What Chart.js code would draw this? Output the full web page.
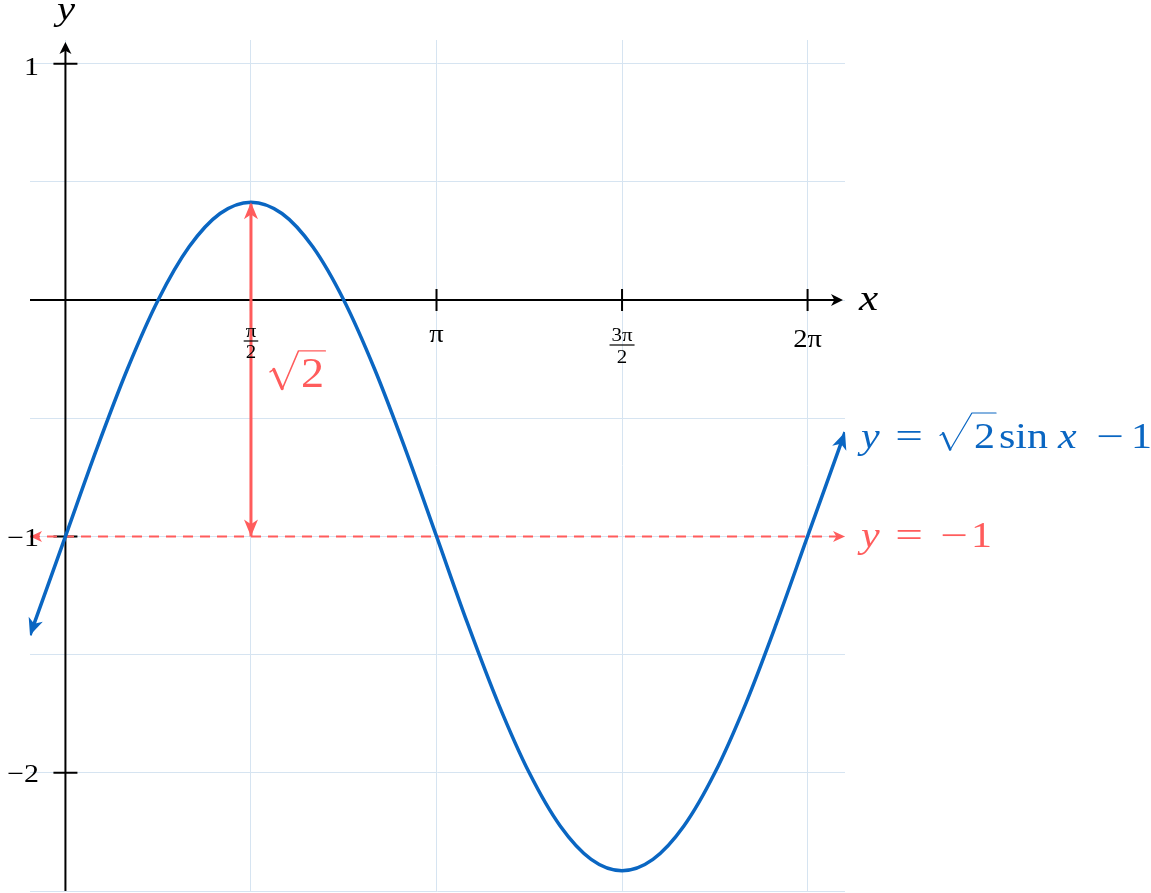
<!DOCTYPE html>
<html>
<head>
<meta charset="utf-8">
<script src="https://cdn.jsdelivr.net/npm/chart.js@4.4.0/dist/chart.umd.min.js"></script>
<style>
  html, body { margin: 0; padding: 0; background: #fff; }
  canvas { display: block; }
</style>
</head>
<body>
<canvas id="chart" width="1151" height="893" style="width:1151px;height:893px"></canvas>
<script>
// y = sqrt(2) sin x - 1
const curveX = [-0.3, 0, 0.262, 0.524, 0.785, 1.047, 1.309, 1.571, 1.833, 2.094, 2.356, 2.618, 2.880, 3.142,
  3.403, 3.665, 3.927, 4.189, 4.451, 4.712, 4.974, 5.236, 5.498, 5.760, 6.021, 6.283, 6.6];
const curveY = [-1.418, -1, -0.634, -0.293, 0, 0.225, 0.366, 0.414, 0.366, 0.225, 0, -0.293, -0.634, -1,
  -1.366, -1.707, -2, -2.225, -2.366, -2.414, -2.366, -2.225, -2, -1.707, -1.366, -1, -0.559];

// dashed reference line y = -1 and the amplitude arrow at x = pi/2
const refLineX = [-0.3, 6.6];
const refLineY = [-1, -1];
const ampX = [1.5708, 1.5708];
const ampY = [-1, 0.414];

const xMin = -0.3, xMax = 6.6, yMin = -2.5, yMax = 1.1;
const xGrid = [0, 1.5708, 3.1416, 4.7124, 6.2832];
const yGrid = [1, 0.5, 0, -0.5, -1, -1.5, -2, -2.5];
const xTickValues = [1.5708, 3.1416, 4.7124, 6.2832];
const yTickValues = [1, -1, -2];
const yTickLabels = ["1", "−1", "−2"];

const blue = "#0a66c2";
const red = "#ff5c5c";
const gridColor = "#d6e4f1";
const serif = '"Liberation Serif", "Times New Roman", serif';

function toPoints(xs, ys) {
  return xs.map((x, i) => ({ x: x, y: ys[i] }));
}

function arrowHead(ctx, tipX, tipY, fromX, fromY, len, half, color) {
  const a = Math.atan2(tipY - fromY, tipX - fromX);
  ctx.save();
  ctx.translate(tipX, tipY);
  ctx.rotate(a);
  ctx.beginPath();
  ctx.moveTo(0, 0);
  ctx.lineTo(-len, -half);
  ctx.lineTo(-len * 0.72, 0);
  ctx.lineTo(-len, half);
  ctx.closePath();
  ctx.fillStyle = color;
  ctx.fill();
  ctx.restore();
}

// sx stretches glyphs sideways a little, closer to the wide TeX look
function text(ctx, str, x, y, size, color, italic, align, sx) {
  sx = sx || 1;
  ctx.save();
  ctx.font = (italic ? "italic " : "") + size + "px " + serif;
  ctx.fillStyle = color;
  ctx.textAlign = align || "left";
  ctx.textBaseline = "alphabetic";
  ctx.translate(x, y);
  ctx.scale(sx, 1);
  ctx.fillText(str, 0, 0);
  const w = ctx.measureText(str).width * sx;
  ctx.restore();
  return w;
}

// radical sign drawn as strokes, the radicand as text
function sqrtText(ctx, digit, x0, yb, size, textX, topK, color, sx) {
  const w = text(ctx, digit, textX, yb, size, color, false, "left", sx);
  const top = yb - topK * size;
  ctx.save();
  ctx.strokeStyle = color;
  ctx.lineCap = "round";
  ctx.lineJoin = "round";
  ctx.lineWidth = size * 0.035;
  ctx.beginPath();
  ctx.moveTo(x0, yb - 0.36 * size);
  ctx.lineTo(x0 + 0.09 * size, yb - 0.42 * size);
  ctx.stroke();
  ctx.lineWidth = size * 0.075;
  ctx.beginPath();
  ctx.moveTo(x0 + 0.09 * size, yb - 0.42 * size);
  ctx.lineTo(x0 + 0.29 * size, yb + 0.04 * size);
  ctx.stroke();
  ctx.lineWidth = size * 0.035;
  ctx.beginPath();
  ctx.moveTo(x0 + 0.29 * size, yb + 0.05 * size);
  ctx.lineTo(textX - 0.06 * size, top);
  ctx.lineTo(textX + w + 0.03 * size, top);
  ctx.stroke();
  ctx.restore();
}

function frac(ctx, num, den, cx, numBase, barY, denBase, size) {
  ctx.font = size + "px " + serif;
  const w = Math.max(ctx.measureText(num).width, ctx.measureText(den).width) * 1.1 + 4;
  text(ctx, num, cx, numBase, size, "#000", false, "center", 1.1);
  text(ctx, den, cx, denBase, size, "#000", false, "center", 1.1);
  ctx.fillStyle = "#000";
  ctx.fillRect(cx - w / 2, barY - 0.6, w, 1.2);
}

const decor = {
  id: "decor",
  beforeDatasetsDraw(chart) {
    const ctx = chart.ctx;
    const xs = chart.scales.x, ys = chart.scales.y;
    const ox = xs.getPixelForValue(0), oy = ys.getPixelForValue(0);
    const left = xs.getPixelForValue(xMin), right = xs.getPixelForValue(xMax) - 2;
    const bottom = ys.getPixelForValue(yMin), top = ys.getPixelForValue(yMax) + 2;
    ctx.save();
    ctx.strokeStyle = "#000";
    ctx.lineWidth = 2;
    ctx.beginPath();
    ctx.moveTo(left, oy);
    ctx.lineTo(right - 6, oy);
    ctx.moveTo(ox, bottom);
    ctx.lineTo(ox, top + 6);
    ctx.stroke();
    arrowHead(ctx, right, oy, left, oy, 12, 6, "#000");
    arrowHead(ctx, ox, top, ox, bottom, 12, 6, "#000");
    ctx.beginPath();
    xTickValues.forEach(v => {
      const p = xs.getPixelForValue(v);
      ctx.moveTo(p, oy - 11);
      ctx.lineTo(p, oy + 11);
    });
    yTickValues.forEach(v => {
      const p = ys.getPixelForValue(v);
      ctx.moveTo(ox - 12, p);
      ctx.lineTo(ox + 12, p);
    });
    ctx.stroke();
    ctx.restore();
  },
  afterDatasetsDraw(chart) {
    const ctx = chart.ctx;
    const xs = chart.scales.x, ys = chart.scales.y;
    const px = v => xs.getPixelForValue(v), py = v => ys.getPixelForValue(v);
    ctx.save();

    // curve end arrows
    const n = curveX.length;
    arrowHead(ctx, px(curveX[0]), py(curveY[0]), px(curveX[1]), py(curveY[1]), 17, 7.5, blue);
    arrowHead(ctx, px(curveX[n - 1]), py(curveY[n - 1]), px(curveX[n - 2]), py(curveY[n - 2]), 17, 7.5, blue);
    // dashed line arrows
    arrowHead(ctx, px(refLineX[0]), py(refLineY[0]), px(refLineX[1]), py(refLineY[1]), 12, 5.5, red);
    arrowHead(ctx, px(refLineX[1]), py(refLineY[1]), px(refLineX[0]), py(refLineY[0]), 12, 5.5, red);
    // amplitude arrow
    arrowHead(ctx, px(ampX[0]), py(ampY[0]), px(ampX[1]), py(ampY[1]), 17, 7, red);
    arrowHead(ctx, px(ampX[1]), py(ampY[1]), px(ampX[0]), py(ampY[0]), 17, 7, red);

    // axis names
    text(ctx, "y", 66, 20, 34, "#000", true, "center", 1.2);
    text(ctx, "x", 859, 310, 36, "#000", true, "left", 1.2);

    // y tick labels
    const yBase = [75, 546, 782];
    yTickLabels.forEach((t, i) => text(ctx, t, 39, yBase[i], 26, "#000", false, "right", 1.15));

    // x tick labels
    frac(ctx, "π", "2", px(xTickValues[0]), 337, 341, 358, 19);
    text(ctx, "π", px(xTickValues[1]), 342, 26, "#000", false, "center", 1.1);
    frac(ctx, "3π", "2", px(xTickValues[2]), 341, 345, 363, 19);
    text(ctx, "2π", px(xTickValues[3]), 347, 26, "#000", false, "center", 1.1);

    // sqrt(2) beside the amplitude arrow
    sqrtText(ctx, "2", 270, 387, 42, 301, 0.86, red, 1.1);

    // curve label: y = √2 sin x − 1
    const s = 35, k = 1.2, b1 = 448;
    text(ctx, "y", 861, b1, s, blue, true, "left", k);
    text(ctx, "=", 909, b1, s, blue, false, "center", 1.4);
    sqrtText(ctx, "2", 940, b1, s, 974, 1.0, blue, k);
    text(ctx, "sin", 999, b1, s, blue, false, "left", k);
    text(ctx, "x", 1058, b1, s, blue, true, "left", k);
    text(ctx, "−", 1110, b1, s, blue, false, "center", 1.4);
    text(ctx, "1", 1131, b1, s, blue, false, "left", k);

    // reference label: y = −1
    const b2 = 547;
    text(ctx, "y", 861, b2, s, red, true, "left", k);
    text(ctx, "=", 909, b2, s, red, false, "center", 1.4);
    text(ctx, "−", 954, b2, s, red, false, "center", 1.4);
    text(ctx, "1", 971, b2, s, red, false, "left", k);

    ctx.restore();
  }
};

new Chart(document.getElementById("chart"), {
  type: "line",
  data: {
    datasets: [
      {
        data: toPoints(curveX, curveY),
        borderColor: blue,
        borderWidth: 3.5,
        tension: 0.33,
        pointRadius: 0,
        order: 0
      },
      {
        data: toPoints(refLineX, refLineY),
        borderColor: red,
        borderWidth: 2,
        borderDash: [10, 7],
        pointRadius: 0,
        order: 1
      },
      {
        data: toPoints(ampX, ampY),
        borderColor: red,
        borderWidth: 3,
        pointRadius: 0,
        order: 1
      }
    ]
  },
  options: {
    responsive: false,
    animation: false,
    layout: { padding: { left: 30, right: 306, top: 40, bottom: 2 } },
    plugins: { legend: { display: false }, tooltip: { enabled: false } },
    scales: {
      x: {
        type: "linear",
        min: xMin,
        max: xMax,
        afterBuildTicks: s => { s.ticks = xGrid.map(v => ({ value: v })); },
        ticks: { display: false },
        grid: { color: gridColor, drawTicks: false },
        border: { display: false }
      },
      y: {
        type: "linear",
        min: yMin,
        max: yMax,
        afterBuildTicks: s => { s.ticks = yGrid.map(v => ({ value: v })); },
        ticks: { display: false },
        grid: { color: gridColor, drawTicks: false },
        border: { display: false }
      }
    }
  },
  plugins: [decor]
});
</script>
</body>
</html>
